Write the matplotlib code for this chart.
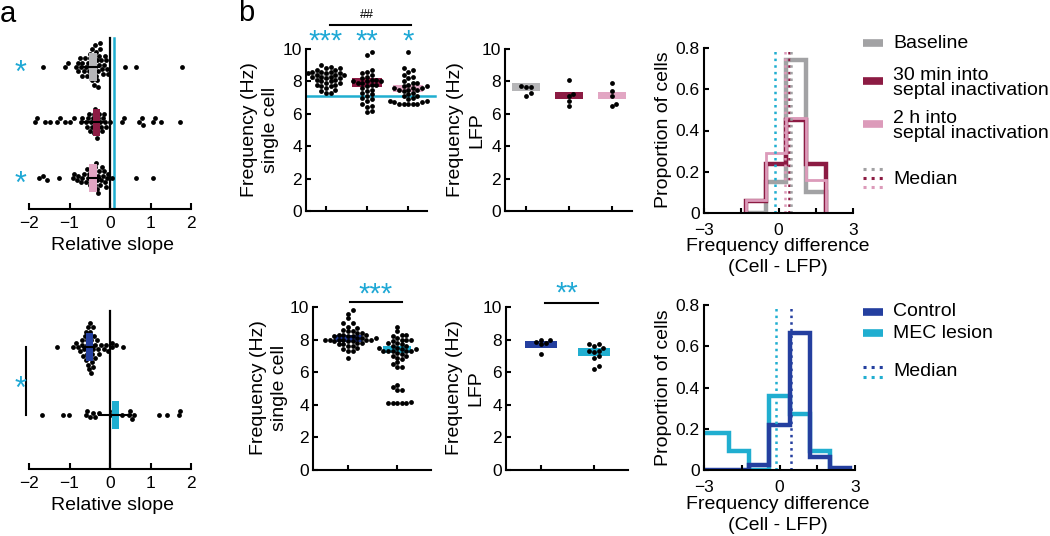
import numpy as np
import matplotlib.pyplot as plt

plt.rcParams['font.family'] = ['Liberation Sans', 'DejaVu Sans']
plt.rcParams['axes.linewidth'] = 1.5

W, H = 1050, 536

# ---------------- data: panel a (relative slope) ----------------
slope_base = [-1.65, -1.1, -1.03, -0.85, -0.8, -0.78, -0.75, -0.72, -0.7, -0.68,
              -0.65, -0.62, -0.6, -0.58, -0.55, -0.53, -0.5, -0.5, -0.48, -0.47,
              -0.45, -0.45, -0.43, -0.42, -0.4, -0.4, -0.38, -0.37, -0.35, -0.35,
              -0.33, -0.32, -0.3, -0.3, -0.28, -0.27, -0.25, -0.25, -0.22, -0.2,
              -0.18, -0.15, -0.13, -0.1, -0.08, -0.05, 0.37, 0.64, 1.77]
slope_30min = [-1.85, -1.8, -1.6, -1.48, -1.3, -1.23, -1.12, -0.99, -0.9, -0.72,
               -0.68, -0.6, -0.58, -0.55, -0.52, -0.5, -0.48, -0.45, -0.43, -0.4,
               -0.4, -0.38, -0.36, -0.35, -0.33, -0.3, -0.28, -0.25, -0.22, -0.2,
               -0.18, -0.15, -0.12, -0.1, 0.0, 0.3, 0.35, 0.72, 0.78, 0.82, 1.07,
               1.12, 1.26, 1.73]
slope_2h = [-1.75, -1.65, -1.56, -1.25, -0.92, -0.88, -0.82, -0.78, -0.72, -0.68,
            -0.65, -0.6, -0.58, -0.55, -0.52, -0.5, -0.48, -0.45, -0.43, -0.42,
            -0.4, -0.38, -0.37, -0.35, -0.33, -0.32, -0.3, -0.3, -0.28, -0.25,
            -0.22, -0.2, -0.18, -0.15, -0.12, -0.1, -0.08, -0.05, 0.05, 0.64, 1.05]
slope_ctrl = [-1.3, -0.92, -0.85, -0.8, -0.75, -0.7, -0.68, -0.66, -0.64, -0.62,
              -0.6, -0.6, -0.58, -0.57, -0.56, -0.55, -0.54, -0.53, -0.52,
              -0.51, -0.5, -0.5, -0.49, -0.48, -0.47, -0.46, -0.45, -0.44,
              -0.43, -0.42, -0.41, -0.4, -0.38, -0.36, -0.33, -0.3, -0.27,
              -0.22, -0.15, -0.1, -0.05, 0.05, 0.05, 0.15, 0.31]
slope_mec = [-1.68, -1.17, -1.01, -0.6, -0.58, -0.5, -0.42, -0.37, -0.28, 0.05,
             0.08, 0.12, 0.3, 0.47, 0.5, 0.55, 0.6, 1.2, 1.41, 1.7, 1.74]
# coloured box (lo, hi) and black bar (lo, hi) per row
a_box_top = [(-0.52, -0.32), (-0.42, -0.25), (-0.52, -0.32)]
a_bar_top = [(-0.69, -0.27), (-0.64, -0.1), (-0.54, -0.25)]
a_box_bot = [(-0.59, -0.42), (0.05, 0.22)]
a_bar_bot = [(-0.66, -0.39), (-0.27, 0.52)]
slope_ref = 0.1

# ---------------- data: panel b (frequencies) ----------------
cell_base = [9.0, 8.9, 8.8, 8.8, 8.7, 8.7, 8.6, 8.6, 8.6, 8.5, 8.5, 8.5, 8.4,
             8.4, 8.4, 8.3, 8.3, 8.3, 8.2, 8.2, 8.1, 8.1, 8.0, 8.0, 7.9, 7.9,
             7.8, 7.8, 7.7, 7.7, 7.6, 7.5, 7.4, 7.3, 7.3]
cell_30min = [9.8, 9.6, 8.7, 8.6, 8.5, 8.4, 8.3, 8.2, 8.1, 8.1, 8.0, 8.0, 8.0, 7.9,
              7.9, 7.8, 7.8, 7.7, 7.6, 7.5, 7.4, 7.3, 7.2, 7.1, 7.0, 6.9, 6.8, 6.6,
              6.5, 6.4, 6.2, 6.1]
cell_2h = [9.8, 8.8, 8.7, 8.6, 8.4, 8.3, 8.2, 8.0, 7.9, 7.9, 7.8, 7.7, 7.7, 7.6,
           7.6, 7.6, 7.5, 7.5, 7.5, 7.4, 7.3, 7.2, 7.1, 7.1, 7.0, 6.9, 6.8, 6.8,
           6.7, 6.7, 6.6, 6.6, 6.6, 6.6, 6.6]
cell_ctrl = [9.8, 9.6, 9.3, 9.0, 9.0, 8.8, 8.7, 8.6, 8.5, 8.5, 8.4, 8.4, 8.3, 8.3,
             8.3, 8.2, 8.2, 8.2, 8.1, 8.1, 8.1, 8.0, 8.0, 8.0, 8.0, 8.0, 8.0,
             7.9, 7.9, 7.9, 7.8, 7.8, 7.7, 7.7, 7.6, 7.6, 7.5, 7.4, 7.3, 7.3, 6.9]
cell_mec = [8.8, 8.5, 8.3, 8.3, 8.2, 8.1, 8.0, 8.0, 8.0, 7.9, 7.8, 7.8, 7.7,
            7.6, 7.6, 7.5, 7.5, 7.4, 7.4, 7.3, 7.3, 7.3, 7.3, 7.3, 7.2, 7.1,
            7.0, 7.0, 6.9, 6.8, 6.6, 6.5, 6.3, 6.3, 5.2, 5.1, 4.9, 4.9,
            4.2, 4.1, 4.1, 4.1, 4.1, 4.1]
lfp_base = [7.7, 7.65, 7.65, 7.3, 7.1]
lfp_30min = [8.1, 7.2, 7.1, 6.8, 6.5]
lfp_2h = [7.9, 7.4, 7.1, 6.6, 6.5]
lfp_ctrl = [8.0, 7.95, 7.85, 7.8, 7.7, 7.1]
lfp_mec = [7.75, 7.7, 7.6, 7.5, 7.3, 7.3, 7.25, 7.0, 6.85, 6.35, 6.2]
# mean boxes (lo, hi)
cell_box_top = [(8.1, 8.55), (7.65, 8.2), (7.35, 7.78)]
lfp_box_top = [(7.4, 7.9), (6.9, 7.35), (6.9, 7.35)]
cell_box_bot = [(7.85, 8.28), (7.18, 7.6)]
lfp_box_bot = [(7.5, 7.9), (7.0, 7.5)]
lfp_ref = 7.1

# ---------------- data: histograms ----------------
edges_top = [-1.3, -0.5, 0.3, 1.1, 1.9]
hist_base = [0.0, 0.15, 0.74, 0.10]
hist_30min = [0.06, 0.24, 0.45, 0.24]
hist_2h = [0.065, 0.29, 0.46, 0.16]
median_top = [0.52, 0.44, 0.28]
edges_bot = [-3.6, -2.8, -2.0, -1.2, -0.4, 0.4, 1.2, 2.0, 2.8]
hist_ctrl = [0.0, 0.0, 0.0, 0.025, 0.22, 0.665, 0.065, 0.012]
hist_mec = [0.18, 0.18, 0.09, 0.0, 0.36, 0.27, 0.09, 0.0]
median_ctrl = 0.45
median_mec = -0.15

GRAY, MAROON, PINK = '#a2a2a4', '#8c1b43', '#dc9bba'
GRAY_BOX, PINK_BOX = '#b6b6b8', '#e2a6c3'
BLUE, CYAN = '#243f9f', '#20aed0'
STAR = '#1ea8d5'
DOT = 12


def px_axes(fig, l, t, r, b):
    return fig.add_axes([l / W, 1 - b / H, (r - l) / W, (b - t) / H])


def ftext(x, y, s, **kw):
    return fig.text(x / W, 1 - y / H, s, **kw)


def swarm(vals, v_ppu, o_ppu, d=4.6):
    """beeswarm offsets (data units of the offset axis)"""
    vals = np.asarray(vals, float)
    pts = []
    offs = np.zeros(len(vals))
    step = d * 0.5
    for i in np.argsort(vals):
        v = vals[i] * v_ppu
        k = 0
        while True:
            o = ((k + 1) // 2) * step * (1 if k % 2 else -1)
            if all((v - pv) ** 2 + (o - po) ** 2 >= d * d for pv, po in pts):
                break
            k += 1
        pts.append((v, o))
        offs[i] = o / o_ppu
    return offs


def style_b(ax):
    for s in ['top', 'right']:
        ax.spines[s].set_visible(False)
    ax.tick_params(direction='in', length=3.5, width=1.5, labelsize=12.5, pad=3)


fig = plt.figure(figsize=(W / 100, H / 100), dpi=100)

# ---------------- panel a ----------------
def slope_panel(box, rows, data, boxes, bars, colors, ylim, ppu, vtop, bh):
    ax = px_axes(fig, *box)
    ax.set_xlim(-2, 2)
    ax.set_ylim(*ylim)
    for s in ['top', 'right', 'left']:
        ax.spines[s].set_visible(False)
    ax.set_yticks([])
    ax.set_xticks([-2, -1, 0, 1, 2])
    ax.set_xticklabels(['\u22122', '\u22121', '0', '1', '2'])
    ax.tick_params(direction='in', length=4, width=1.5, labelsize=12.5, pad=5)
    frac = (vtop - ylim[0]) / (ylim[1] - ylim[0])
    ax.axvline(0, ymax=frac, color='k', lw=1.6, zorder=1)
    for row, vals, (blo, bhi), (clo, chi), c in zip(rows, data, boxes, bars, colors):
        ax.scatter(vals, row + swarm(vals, 40.5, ppu, d=4.4), s=DOT, color='k',
                   linewidths=0, zorder=2)
        # the coloured box sits over the dots here
        ax.barh(row, bhi - blo, left=blo, height=bh, color=c, zorder=3)
        ax.plot([clo, chi], [row, row], color='k', lw=1.5, zorder=4)
    return ax, frac


ax_a1, fr = slope_panel((29, 30, 191, 209), [3, 2, 1],
                        [slope_base, slope_30min, slope_2h],
                        a_box_top, a_bar_top, [GRAY_BOX, MAROON, PINK_BOX],
                        (0.441, 3.667), 55.5, 3.52, 0.5)
ax_a1.axvline(slope_ref, ymax=fr, color=CYAN, lw=1.8, zorder=1)
ax_a2, _ = slope_panel((29, 300, 191, 469), [2, 1], [slope_ctrl, slope_mec],
                       a_box_bot, a_bar_bot, [BLUE, CYAN],
                       (0.206, 2.69), 68, 2.53, 0.4)
ax_a2.plot([-2.07, -2.07], [1, 2], color='k', lw=1.5, clip_on=False)

ftext(20, 74, '*', color=STAR, fontsize=22, ha='center', va='center')
ftext(20, 185, '*', color=STAR, fontsize=22, ha='center', va='center')
ftext(20, 390, '*', color=STAR, fontsize=22, ha='center', va='center')
ftext(112, 250, 'Relative slope', fontsize=14, ha='center', va='baseline')
ftext(112, 510, 'Relative slope', fontsize=14, ha='center', va='baseline')
ftext(0, 22, 'a', fontsize=21, ha='left', va='baseline')
ftext(238, 21, 'b', fontsize=21, ha='left', va='baseline')


# ---------------- panel b: dot plots ----------------
def dot_panel(box, xlim, ppx, groups, boxes, colors, hw):
    ax = px_axes(fig, *box)
    style_b(ax)
    ax.set_ylim(0, 10)
    ax.set_xlim(*xlim)
    ax.set_yticks(range(0, 11, 2))
    n = len(groups)
    ax.set_xticks(range(1, n + 1))
    ax.set_xticklabels([''] * n)
    ppy = (box[3] - box[1]) / 10.0
    for i, (vals, (lo, hi), c) in enumerate(zip(groups, boxes, colors)):
        x = i + 1
        ax.bar(x, hi - lo, bottom=lo, width=2 * hw, color=c, zorder=1)
        ax.scatter(x + swarm(vals, ppy, ppx), vals, s=DOT, color='k',
                   linewidths=0, zorder=3, clip_on=False)
    return ax


ax_c1 = dot_panel((306, 49, 427, 211), (0.512, 3.46), 41,
                  [cell_base, cell_30min, cell_2h], cell_box_top,
                  [GRAY_BOX, MAROON, PINK_BOX], 0.37)
ax_c1.plot([0.512, 3.66], [lfp_ref, lfp_ref], color=CYAN, lw=1.8, zorder=2,
           clip_on=False)
for x, s in zip([1, 2, 3], ['***', '**', '*']):
    ax_c1.text(x, 10.45, s, color=STAR, fontsize=21, ha='center', va='center',
               clip_on=False)
ax_c1.plot([1.1, 3.07], [11.48, 11.48], color='k', lw=1.5, clip_on=False)
ax_c1.text(2, 12.1, '##', fontsize=9, ha='center', va='center', clip_on=False)

ax_l1 = dot_panel((505, 49, 632, 211), (0.512, 3.47), 43,
                  [lfp_base, lfp_30min, lfp_2h], lfp_box_top,
                  [GRAY_BOX, MAROON, PINK_BOX], 0.33)

ax_c2 = dot_panel((313, 307, 431, 470), (0.286, 2.69), 49,
                  [cell_ctrl, cell_mec], cell_box_bot, [BLUE, CYAN], 0.29)
ax_c2.text(1.55, 10.75, '***', color=STAR, fontsize=21, ha='center',
           va='center', clip_on=False)
ax_c2.plot([1.04, 2.1], [10.3, 10.3], color='k', lw=1.5, clip_on=False)

ax_l2 = dot_panel((506, 307, 628, 470), (0.34, 2.64), 53,
                  [lfp_ctrl, lfp_mec], lfp_box_bot, [BLUE, CYAN], 0.3)
ax_l2.text(1.49, 10.85, '**', color=STAR, fontsize=21, ha='center',
           va='center', clip_on=False)
ax_l2.plot([1.08, 2.08], [10.25, 10.25], color='k', lw=1.5, clip_on=False)

for x, y, lab in [(260, 130, 'Frequency (Hz)\nsingle cell'),
                  (466, 130, 'Frequency (Hz)\nLFP'),
                  (269, 388, 'Frequency (Hz)\nsingle cell'),
                  (465, 388, 'Frequency (Hz)\nLFP')]:
    ftext(x, y, lab, fontsize=14, rotation=90, ha='center', va='center',
          multialignment='center', linespacing=1.3)


# ---------------- panel b: histograms ----------------
def hist_axes(box):
    ax = px_axes(fig, *box)
    style_b(ax)
    ax.set_xlim(-3, 3)
    ax.set_ylim(0, 0.8)
    ax.set_yticks([0, 0.2, 0.4, 0.6, 0.8])
    ax.set_yticklabels(['0', '0.2', '0.4', '0.6', '0.8'])
    ax.set_xticks([-3, -1.5, 0, 1.5, 3])
    ax.set_xticklabels(['\u22123', '', '0', '', '3'])
    ax.tick_params(axis='x', pad=7)
    return ax


ax_h1 = hist_axes((704, 48, 853, 213))
ax_h1.stairs(hist_base, edges_top, color=GRAY, lw=3.2)
ax_h1.stairs(hist_30min, edges_top, color=MAROON, lw=3.2)
ax_h1.stairs(hist_2h, edges_top, color=PINK, lw=2.0)
ax_h1.axvline(median_mec, color=CYAN, ls=':', lw=1.8)
for m, c in zip(median_top[::-1], [PINK, MAROON, GRAY]):
    ax_h1.axvline(m, color=c, ls=':', lw=1.8)

ax_h2 = hist_axes((704, 305, 855, 470))
ax_h2.stairs(hist_mec, edges_bot, color=CYAN, lw=3.2)
ax_h2.stairs(hist_ctrl, edges_bot, color=BLUE, lw=3.2)
ax_h2.axvline(median_mec, color=CYAN, ls=':', lw=1.8)
ax_h2.axvline(median_ctrl, color=BLUE, ls=':', lw=1.8)

for y in (130, 388):
    ftext(663, y, 'Proportion of cells', fontsize=14, rotation=90,
          ha='center', va='center')
    ftext(778, y + 127, 'Frequency difference\n(Cell - LFP)', fontsize=14,
          ha='center', va='center', multialignment='center', linespacing=1.3)

# ---------------- legends ----------------
lg = px_axes(fig, 850, 20, 1050, 400)
lg.set_xlim(850, 1050)
lg.set_ylim(400, 20)
lg.axis('off')
for y, c, lab in [(43, GRAY, 'Baseline'),
                  (81, MAROON, '30 min into\nseptal inactivation'),
                  (124, PINK, '2 h into\nseptal inactivation'),
                  (312, BLUE, 'Control'), (333, CYAN, 'MEC lesion')]:
    lg.plot([863, 883], [y, y], color=c, lw=5.5, solid_capstyle='butt')
    dy = 2 if '\n' in lab else 0
    lg.text(893, y + dy, lab, fontsize=14, va='center', ha='left',
            linespacing=0.9)
for ys, cs, ty in [((169, 178, 187), (GRAY, MAROON, PINK), 179),
                   ((367, 377), (BLUE, CYAN), 372)]:
    for y, c in zip(ys, cs):
        lg.plot([863, 883], [y, y], color=c, lw=2.2, ls=':')
    lg.text(893, ty, 'Median', fontsize=14, va='center', ha='left')

fig.savefig('out.png', dpi=100)
